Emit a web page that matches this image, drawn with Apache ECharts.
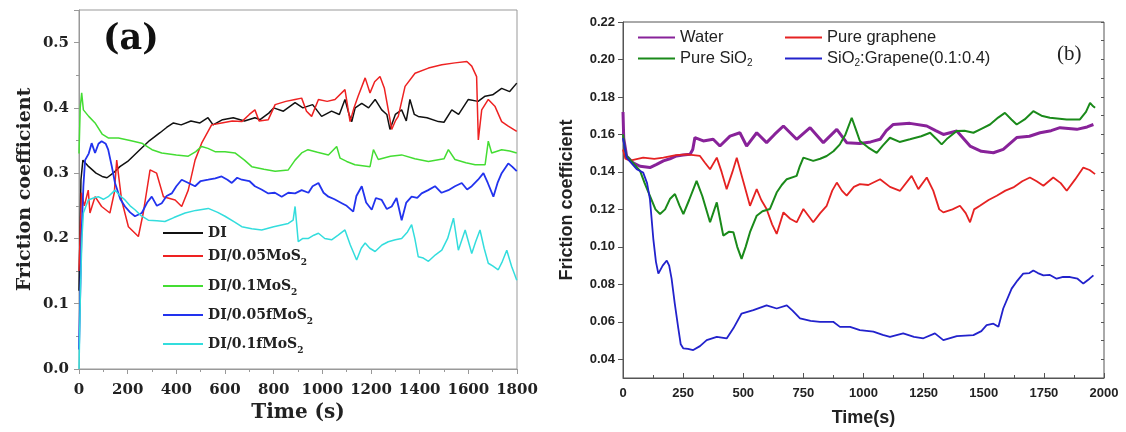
<!DOCTYPE html>
<html>
<head>
<meta charset="UTF-8">
<title>Friction coefficient</title>
<script src="https://cdn.jsdelivr.net/npm/echarts@6/dist/echarts.min.js"></script>
<style>
  html, body { margin: 0; padding: 0; background: #fff; }
  #chart { width: 1126px; height: 432px; }
</style>
</head>
<body>
<div id="chart"></div>
<script>
// ---- panel (a): time (s), friction coefficient ----
var diData = [[0,0.12],[8,0.29],[16,0.32],[40,0.31],[70,0.30],[95,0.295],[115,0.293],[140,0.30],[168,0.31],[200,0.318],[250,0.336],[290,0.35],[333,0.362],[360,0.37],[388,0.377],[420,0.374],[460,0.38],[497,0.377],[530,0.385],[551,0.374],[590,0.382],[634,0.385],[680,0.38],[723,0.385],[744,0.382],[780,0.392],[800,0.40],[840,0.395],[888,0.408],[920,0.40],[960,0.405],[997,0.387],[1038,0.395],[1070,0.39],[1093,0.413],[1110,0.39],[1121,0.379],[1135,0.40],[1162,0.407],[1190,0.40],[1217,0.413],[1244,0.397],[1265,0.39],[1278,0.367],[1300,0.39],[1326,0.397],[1345,0.38],[1360,0.413],[1378,0.39],[1394,0.387],[1430,0.385],[1477,0.379],[1500,0.378],[1532,0.397],[1560,0.39],[1600,0.413],[1640,0.41],[1669,0.418],[1700,0.42],[1737,0.43],[1770,0.425],[1799,0.438]];
var mos05Data = [[0,0.15],[10,0.27],[22,0.25],[38,0.274],[45,0.239],[66,0.264],[93,0.249],[127,0.239],[145,0.27],[155,0.32],[175,0.259],[203,0.218],[244,0.203],[264,0.239],[292,0.305],[319,0.30],[347,0.264],[395,0.259],[422,0.249],[449,0.274],[477,0.32],[504,0.346],[545,0.374],[586,0.377],[630,0.38],[669,0.379],[700,0.39],[723,0.397],[740,0.38],[778,0.382],[806,0.405],[850,0.41],[888,0.413],[915,0.415],[935,0.395],[956,0.387],[984,0.413],[1020,0.41],[1052,0.413],[1093,0.428],[1114,0.379],[1130,0.40],[1147,0.418],[1176,0.446],[1196,0.423],[1215,0.44],[1237,0.448],[1255,0.43],[1271,0.397],[1285,0.367],[1300,0.38],[1312,0.387],[1340,0.433],[1381,0.453],[1436,0.461],[1491,0.466],[1545,0.469],[1594,0.471],[1614,0.464],[1634,0.448],[1641,0.351],[1655,0.397],[1682,0.413],[1710,0.402],[1737,0.379],[1764,0.372],[1799,0.364]];
var mos1Data = [[0,0.33],[5,0.40],[11,0.423],[18,0.397],[40,0.387],[66,0.377],[95,0.36],[120,0.354],[162,0.354],[210,0.35],[258,0.346],[300,0.336],[340,0.331],[400,0.328],[449,0.326],[480,0.333],[504,0.341],[530,0.338],[559,0.333],[600,0.333],[641,0.331],[680,0.32],[710,0.31],[760,0.306],[806,0.303],[860,0.305],[888,0.32],[915,0.331],[941,0.336],[980,0.332],[1025,0.328],[1059,0.341],[1073,0.323],[1100,0.318],[1134,0.313],[1196,0.31],[1210,0.336],[1230,0.321],[1280,0.326],[1326,0.328],[1380,0.322],[1436,0.318],[1500,0.322],[1518,0.336],[1545,0.321],[1590,0.316],[1628,0.313],[1669,0.313],[1682,0.349],[1696,0.331],[1737,0.336],[1770,0.334],[1799,0.331]];
var fmos05Data = [[0,0.03],[10,0.20],[18,0.28],[25,0.32],[40,0.33],[52,0.346],[66,0.331],[80,0.345],[93,0.349],[110,0.345],[120,0.336],[135,0.31],[148,0.285],[170,0.26],[189,0.249],[210,0.24],[230,0.234],[258,0.239],[280,0.255],[299,0.264],[320,0.25],[340,0.254],[360,0.265],[381,0.269],[400,0.28],[422,0.29],[450,0.285],[477,0.28],[500,0.288],[531,0.29],[560,0.292],[586,0.295],[610,0.29],[628,0.285],[650,0.293],[669,0.29],[700,0.288],[723,0.28],[750,0.275],[778,0.269],[805,0.27],[833,0.264],[860,0.27],[888,0.269],[915,0.274],[943,0.27],[960,0.28],[984,0.285],[1005,0.27],[1025,0.264],[1050,0.26],[1080,0.254],[1100,0.25],[1127,0.241],[1140,0.265],[1162,0.28],[1180,0.255],[1203,0.244],[1220,0.262],[1244,0.259],[1265,0.245],[1285,0.249],[1305,0.262],[1326,0.228],[1345,0.255],[1367,0.264],[1390,0.262],[1408,0.269],[1435,0.274],[1463,0.28],[1490,0.27],[1518,0.274],[1545,0.28],[1573,0.285],[1595,0.275],[1614,0.28],[1640,0.29],[1662,0.30],[1680,0.285],[1703,0.264],[1720,0.285],[1737,0.30],[1764,0.315],[1780,0.31],[1799,0.303]];
var fmos1Data = [[0,0.0],[6,0.12],[12,0.2],[18,0.239],[38,0.259],[60,0.262],[79,0.264],[100,0.26],[120,0.264],[148,0.274],[170,0.265],[189,0.259],[210,0.25],[230,0.244],[255,0.235],[285,0.228],[320,0.227],[353,0.226],[390,0.232],[436,0.239],[480,0.243],[531,0.246],[570,0.24],[600,0.234],[640,0.225],[669,0.218],[710,0.215],[751,0.213],[800,0.218],[860,0.223],[880,0.228],[888,0.249],[895,0.22],[901,0.195],[920,0.2],[943,0.2],[965,0.205],[984,0.208],[1010,0.2],[1038,0.198],[1065,0.205],[1093,0.213],[1115,0.19],[1141,0.167],[1160,0.185],[1176,0.193],[1195,0.185],[1217,0.18],[1245,0.19],[1271,0.195],[1300,0.198],[1326,0.2],[1350,0.21],[1367,0.221],[1380,0.2],[1394,0.172],[1415,0.17],[1436,0.165],[1465,0.175],[1491,0.182],[1515,0.2],[1539,0.231],[1559,0.182],[1587,0.213],[1614,0.177],[1630,0.195],[1648,0.213],[1665,0.185],[1682,0.162],[1700,0.158],[1723,0.152],[1740,0.165],[1758,0.182],[1778,0.157],[1790,0.145],[1799,0.136]];

// ---- panel (b) ----
var waterData = [[0,0.172],[3,0.158],[15,0.1485],[40,0.145],[71,0.143],[112,0.1423],[140,0.144],[168,0.1459],[195,0.147],[223,0.1485],[250,0.149],[279,0.1494],[290,0.152],[299,0.1583],[334,0.1565],[375,0.1574],[403,0.1538],[445,0.1591],[486,0.1609],[514,0.1538],[556,0.1609],[597,0.1556],[630,0.16],[667,0.1645],[722,0.1574],[778,0.1636],[833,0.1556],[889,0.1627],[930,0.1556],[985,0.1552],[1030,0.156],[1069,0.1574],[1095,0.162],[1124,0.1653],[1193,0.1659],[1263,0.1645],[1300,0.162],[1332,0.16],[1388,0.1618],[1443,0.1538],[1490,0.151],[1540,0.1502],[1581,0.152],[1637,0.1583],[1690,0.159],[1734,0.1609],[1780,0.162],[1817,0.1636],[1887,0.1627],[1930,0.164],[1956,0.1653]];
var grapheneData = [[0,0.152],[10,0.147],[29,0.146],[84,0.1476],[130,0.147],[168,0.1476],[220,0.149],[265,0.1494],[320,0.1485],[340,0.145],[362,0.1414],[390,0.1476],[410,0.14],[431,0.1308],[455,0.14],[473,0.1476],[500,0.135],[528,0.1219],[556,0.1308],[575,0.125],[597,0.1202],[620,0.112],[639,0.1069],[667,0.1184],[695,0.115],[722,0.1131],[750,0.1202],[791,0.1131],[820,0.118],[847,0.1219],[870,0.13],[889,0.1343],[910,0.13],[930,0.1273],[960,0.132],[985,0.1335],[1020,0.133],[1069,0.1361],[1110,0.132],[1152,0.1299],[1200,0.1379],[1228,0.1308],[1263,0.137],[1290,0.13],[1315,0.12],[1332,0.1184],[1370,0.12],[1401,0.1219],[1425,0.118],[1443,0.1131],[1460,0.12],[1484,0.1219],[1520,0.125],[1554,0.1273],[1590,0.13],[1623,0.1317],[1660,0.135],[1692,0.137],[1720,0.135],[1748,0.1326],[1789,0.137],[1820,0.134],[1845,0.1299],[1880,0.136],[1914,0.1423],[1940,0.141],[1963,0.1388]];
var sio2Data = [[0,0.16],[8,0.152],[15,0.1485],[40,0.145],[71,0.1405],[90,0.134],[112,0.1272],[135,0.12],[154,0.1175],[175,0.12],[195,0.1255],[216,0.1282],[235,0.122],[251,0.1175],[275,0.125],[306,0.1352],[330,0.127],[362,0.1131],[390,0.1237],[417,0.106],[440,0.108],[459,0.1078],[475,0.1],[493,0.0936],[510,0.1],[528,0.1078],[556,0.1166],[580,0.119],[611,0.1202],[639,0.129],[660,0.133],[681,0.1361],[722,0.1379],[735,0.143],[750,0.1476],[791,0.1459],[820,0.147],[847,0.1485],[875,0.151],[902,0.1547],[925,0.16],[951,0.1689],[970,0.162],[985,0.1565],[1020,0.153],[1055,0.1502],[1080,0.154],[1110,0.1582],[1150,0.156],[1193,0.1574],[1240,0.159],[1277,0.1609],[1300,0.158],[1325,0.1547],[1350,0.158],[1388,0.1618],[1420,0.162],[1457,0.1609],[1490,0.163],[1526,0.1653],[1560,0.169],[1588,0.1715],[1615,0.168],[1637,0.1653],[1670,0.168],[1706,0.1724],[1740,0.17],[1775,0.1689],[1845,0.168],[1900,0.168],[1925,0.172],[1942,0.1768],[1955,0.175],[1963,0.1742]];
var mixData = [[0,0.158],[15,0.1476],[57,0.1414],[84,0.1396],[100,0.134],[112,0.1255],[126,0.1043],[137,0.092],[147,0.0857],[165,0.09],[182,0.0927],[192,0.09],[202,0.083],[215,0.07],[230,0.0565],[240,0.048],[251,0.0458],[270,0.0455],[292,0.0449],[320,0.047],[348,0.0502],[390,0.052],[431,0.0511],[459,0.0565],[493,0.0644],[542,0.0662],[597,0.0688],[639,0.0671],[681,0.0688],[705,0.066],[736,0.0618],[780,0.0605],[819,0.06],[874,0.06],[902,0.0573],[944,0.0573],[985,0.0556],[1041,0.0547],[1080,0.053],[1110,0.052],[1165,0.0538],[1210,0.052],[1249,0.0512],[1297,0.0538],[1332,0.0502],[1388,0.0524],[1457,0.0529],[1490,0.055],[1512,0.0582],[1540,0.059],[1561,0.0573],[1581,0.0671],[1616,0.0777],[1640,0.082],[1664,0.0857],[1690,0.086],[1706,0.0874],[1725,0.086],[1748,0.0848],[1775,0.085],[1803,0.083],[1830,0.084],[1859,0.0839],[1890,0.083],[1914,0.0804],[1940,0.083],[1956,0.0848]];

var yTicksB = [0.04, 0.06, 0.08, 0.10, 0.12, 0.14, 0.16, 0.18, 0.20, 0.22];

var serif = 'DejaVu Serif';
var sans = 'Liberation Sans';

// turn the "2" of MoS2 / SiO2 into a subscript for rich text
function sub(name) {
  var parts = name.split('2');
  var out = '';
  for (var i = 0; i < parts.length; i++) {
    if (parts[i] !== '') out += '{n|' + parts[i] + '}';
    if (i < parts.length - 1) out += '{s|2}';
  }
  return out;
}

var richA = {
  n: { fontFamily: serif, fontWeight: 'bold', fontSize: 14, color: '#222', lineHeight: 22 },
  s: { fontFamily: serif, fontWeight: 'bold', fontSize: 9, color: '#222', lineHeight: 12, verticalAlign: 'bottom' }
};
var richB = {
  n: { fontFamily: sans, fontSize: 16.5, color: '#222', lineHeight: 20 },
  s: { fontFamily: sans, fontSize: 10, color: '#222', lineHeight: 11, verticalAlign: 'bottom' }
};

function legendA(name, top) {
  return {
    data: [name], left: 163, top: top, icon: 'rect', itemWidth: 40, itemHeight: 2,
    formatter: sub, textStyle: { rich: richA }, padding: 0, selectedMode: false
  };
}
function legendB(name, left, top) {
  return {
    data: [name], left: left, top: top, icon: 'rect', itemWidth: 37, itemHeight: 2,
    itemGap: 0, formatter: sub, textStyle: { rich: richB }, padding: 0, selectedMode: false
  };
}

function line(name, data, color, width, xi, yi) {
  return {
    name: name, type: 'line', data: data, xAxisIndex: xi, yAxisIndex: yi,
    showSymbol: false, symbol: 'none', color: color,
    lineStyle: { color: color, width: width }, animation: false
  };
}

function plain(v) { return String(v); }

var chart = echarts.init(document.getElementById('chart'));
chart.setOption({
  backgroundColor: '#fff',
  animation: false,
  grid: [
    { left: 79, top: 10, width: 438, height: 359, show: true, borderColor: '#999', borderWidth: 1 },
    { left: 623, top: 22, width: 481, height: 359, show: true, borderColor: '#555', borderWidth: 1 }
  ],
  xAxis: [
    {
      type: 'value', gridIndex: 0, min: 0, max: 1800, interval: 200,
      name: 'Time (s)', nameLocation: 'middle', nameGap: 34,
      nameTextStyle: { fontFamily: serif, fontWeight: 'bold', fontSize: 20, color: '#222' },
      axisLine: { lineStyle: { color: '#999' } },
      axisTick: { length: 5, lineStyle: { color: '#999' } },
      minorTick: { show: true, splitNumber: 2, length: 3, lineStyle: { color: '#999' } },
      axisLabel: { fontFamily: serif, fontWeight: 'bold', fontSize: 15, color: '#222', margin: 14, formatter: plain },
      splitLine: { show: false }
    },
    {
      type: 'value', gridIndex: 1, min: 0, max: 2000, interval: 250,
      name: 'Time(s)', nameLocation: 'middle', nameGap: 31,
      nameTextStyle: { fontFamily: sans, fontWeight: 'bold', fontSize: 18, color: '#222' },
      axisLine: { lineStyle: { color: '#555' } },
      axisTick: { inside: true, length: 5, lineStyle: { color: '#555' } },
      minorTick: { show: true, splitNumber: 2, length: 3, lineStyle: { color: '#555' } },
      axisLabel: { fontFamily: sans, fontWeight: 'bold', fontSize: 13, color: '#222', margin: 9, formatter: plain },
      splitLine: { show: false }
    }
  ],
  yAxis: [
    {
      type: 'value', gridIndex: 0, min: 0, max: 0.55, interval: 0.1,
      name: 'Friction coefficient', nameLocation: 'middle', nameGap: 44,
      nameTextStyle: { fontFamily: serif, fontWeight: 'bold', fontSize: 19, color: '#222' },
      axisLine: { lineStyle: { color: '#999' } },
      axisTick: { length: 5, lineStyle: { color: '#999' } },
      minorTick: { show: true, splitNumber: 2, length: 3, lineStyle: { color: '#999' } },
      axisLabel: {
        fontFamily: serif, fontWeight: 'bold', fontSize: 15, color: '#222', margin: 10,
        showMaxLabel: false, formatter: function (v) { return v.toFixed(1); }
      },
      splitLine: { show: false }
    },
    {
      type: 'value', gridIndex: 1, min: 0.03, max: 0.22,
      name: 'Friction coefficient', nameLocation: 'middle', nameGap: 47,
      nameTextStyle: { fontFamily: sans, fontWeight: 'bold', fontSize: 18, color: '#222' },
      axisLine: { lineStyle: { color: '#555' } },
      axisTick: { length: 5, customValues: yTicksB, lineStyle: { color: '#555' } },
      axisLabel: {
        fontFamily: sans, fontWeight: 'bold', fontSize: 13, color: '#222', margin: 8,
        customValues: yTicksB, formatter: function (v) { return v.toFixed(2); }
      },
      splitLine: { show: false }
    },
    {
      // minor ticks for panel (b) y axis
      type: 'value', gridIndex: 1, min: 0.03, max: 0.22, interval: 0.01,
      axisLine: { show: false },
      axisTick: { inside: true, length: 3, lineStyle: { color: '#555' } },
      axisLabel: { show: false },
      splitLine: { show: false }
    }
  ],
  legend: [
    legendA('DI', 226),
    legendA('DI/0.05MoS2', 249),
    legendA('DI/0.1MoS2', 279),
    legendA('DI/0.05fMoS2', 308),
    legendA('DI/0.1fMoS2', 337),
    legendB('Water', 638, 29),
    legendB('Pure graphene', 785, 29),
    legendB('Pure SiO2', 638, 50),
    legendB('SiO2:Grapene(0.1:0.4)', 785, 50)
  ],
  graphic: [
    { type: 'text', left: 103, top: 22, style: { text: '(a)', fontFamily: serif, fontWeight: 'bold', fontSize: 35, fill: '#111' } },
    { type: 'text', left: 1057, top: 44, style: { text: '(b)', fontFamily: 'Liberation Serif', fontSize: 21, fill: '#222' } }
  ],
  series: [
    line('DI', diData, '#111111', 1.5, 0, 0),
    line('DI/0.05MoS2', mos05Data, '#ee2222', 1.5, 0, 0),
    line('DI/0.1MoS2', mos1Data, '#44dd33', 1.5, 0, 0),
    line('DI/0.05fMoS2', fmos05Data, '#2233ee', 1.8, 0, 0),
    line('DI/0.1fMoS2', fmos1Data, '#33dddd', 1.5, 0, 0),
    line('Water', waterData, '#882299', 3, 1, 1),
    line('Pure graphene', grapheneData, '#e52222', 1.8, 1, 1),
    line('Pure SiO2', sio2Data, '#1a8a1a', 2, 1, 1),
    line('SiO2:Grapene(0.1:0.4)', mixData, '#2222cc', 1.8, 1, 1)
  ]
});
</script>
</body>
</html>
